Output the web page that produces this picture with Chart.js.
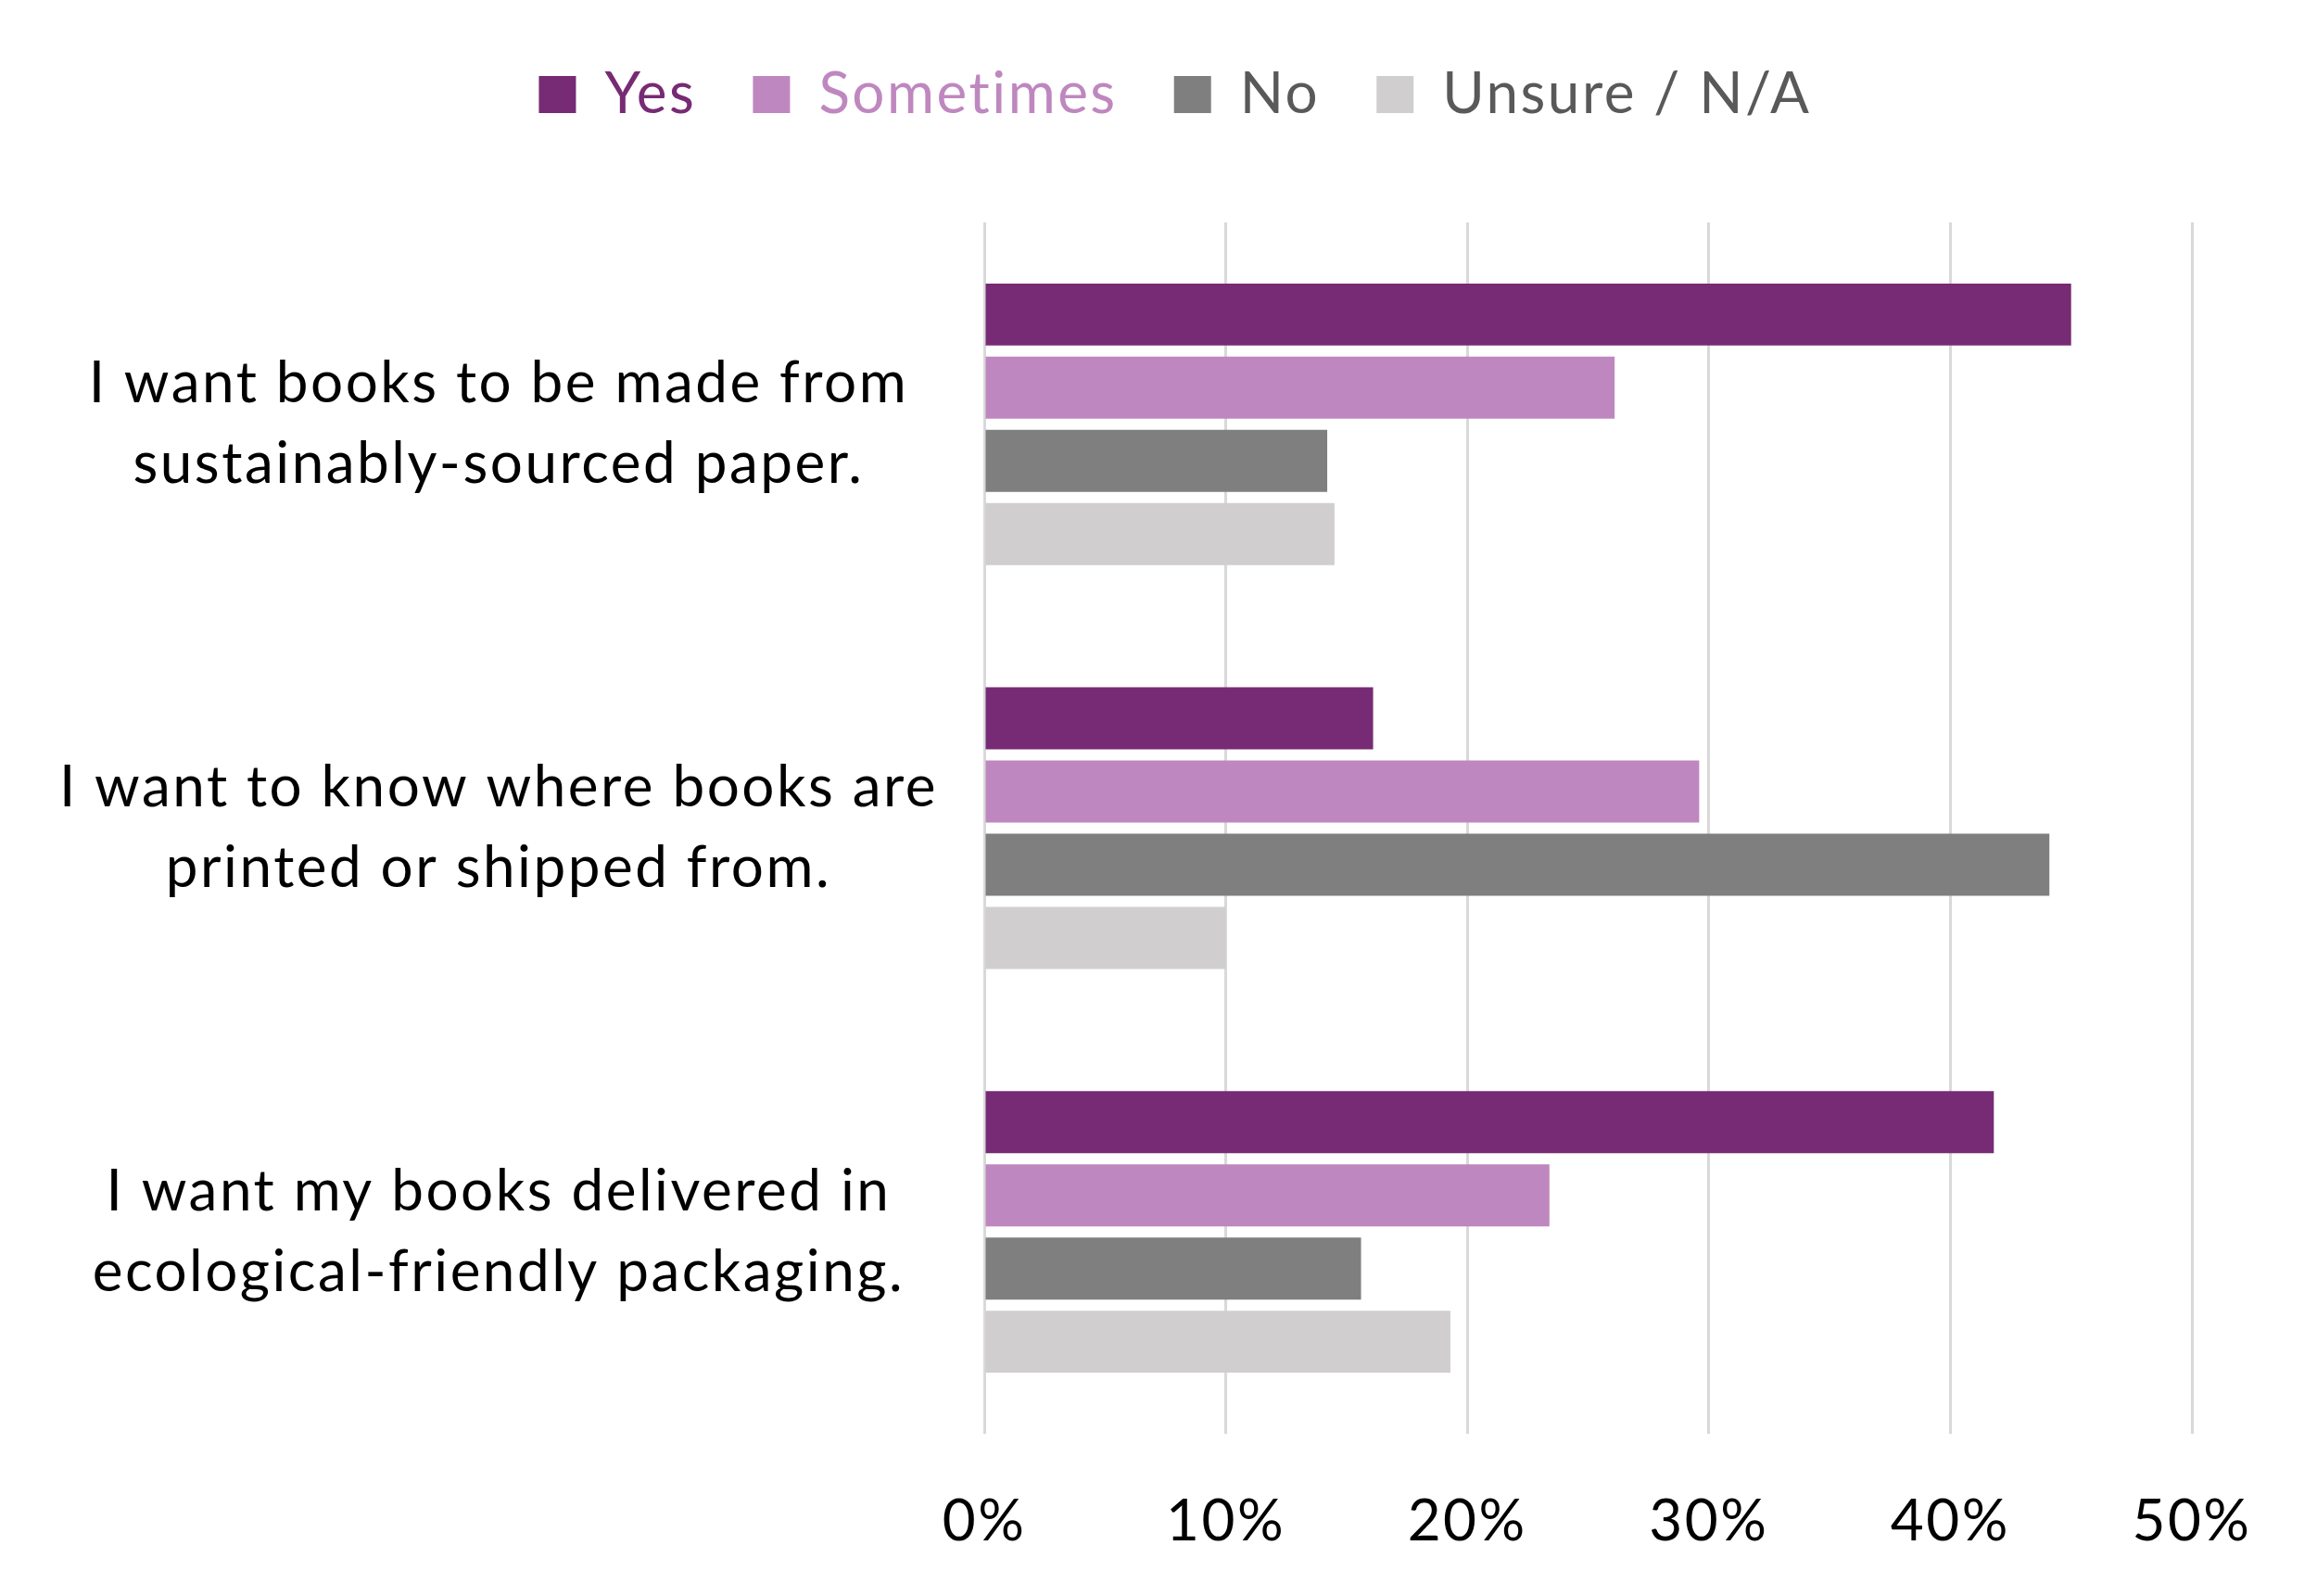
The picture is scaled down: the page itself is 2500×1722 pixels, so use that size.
<!DOCTYPE html>
<html>
<head>
<meta charset="utf-8">
<script src="https://cdn.jsdelivr.net/npm/chart.js@4.4.1/dist/chart.umd.min.js"></script>
<style>
  html, body { margin: 0; padding: 0; background: #fff; }
  #wrap { width: 2500px; height: 1722px; }
</style>
</head>
<body>
<div id="wrap"><canvas id="chart" width="2500" height="1722"></canvas></div>
<script>
// survey statements (y categories), one array of lines each
const statements = [
    ['I want books to be made from', 'sustainably-sourced paper.'],
    ['I want to know where books are', 'printed or shipped from.'],
    ['I want my books delivered in', 'ecological-friendly packaging.']
];
const seriesNames = ['Yes', 'Sometimes', 'No', 'Unsure / N/A'];

// share of respondents, in percent
const yesValues = [45.0, 16.1, 41.8];
const sometimesValues = [26.1, 29.6, 23.4];
const noValues = [14.2, 44.1, 15.6];
const unsureValues = [14.5, 10.0, 19.3];

const percentTicks = [0, 10, 20, 30, 40, 50];

const barColors = ['#772B74', '#BF87BF', '#7F7F7F', '#D0CECE'];
const legendTextColors = ['#772B74', '#BF87BF', '#595959', '#595959'];
const FONT = 'Lato';

const seriesValues = [yesValues, sometimesValues, noValues, unsureValues];

const datasets = seriesNames.map((name, i) => ({
    label: name,
    data: seriesValues[i],
    backgroundColor: barColors[i],
    borderWidth: 0,
    categoryPercentage: 0.725,
    barPercentage: 0.848
}));

// push the plot area down below the legend
const legendSpacer = {
    id: 'legendSpacer',
    beforeInit(chart) {
        const origFit = chart.legend.fit;
        chart.legend.fit = function () {
            origFit.call(this);
            this.height = 230;
        };
    }
};

// the source text is set a little wider than Lato
const looseText = {
    id: 'looseText',
    beforeUpdate(chart) { chart.ctx.letterSpacing = '2.5px'; },
    beforeDraw(chart) { chart.ctx.letterSpacing = '2.5px'; }
};

new Chart(document.getElementById('chart'), {
    type: 'bar',
    data: { labels: statements, datasets },
    plugins: [legendSpacer, looseText],
    options: {
        indexAxis: 'y',
        responsive: false,
        animation: false,
        devicePixelRatio: 1,
        layout: { padding: { left: 36, right: 0, top: 10, bottom: 0 } },
        plugins: {
            tooltip: { enabled: false },
            legend: {
                position: 'top',
                labels: {
                    boxWidth: 40,
                    boxHeight: 40,
                    padding: 61,
                    font: { family: FONT, size: 62 },
                    generateLabels(chart) {
                        const items = Chart.defaults.plugins.legend.labels.generateLabels(chart);
                        items.forEach((it, i) => { it.fontColor = legendTextColors[i]; });
                        return items;
                    }
                }
            }
        },
        scales: {
            x: {
                min: 0,
                max: 50,
                grid: { color: '#D9D9D9', lineWidth: 3, drawTicks: false },
                border: { display: false },
                afterBuildTicks: s => { s.ticks = percentTicks.map(v => ({ value: v })); },
                ticks: {
                    padding: 58,
                    color: '#000',
                    font: { family: FONT, size: 62 },
                    callback: v => v + '%'
                },
                afterFit: s => { s.height = 175; s.paddingRight = 135; }
            },
            y: {
                grid: { display: false },
                border: { display: false },
                ticks: {
                    crossAlign: 'center',
                    padding: 42,
                    color: '#000',
                    font: { family: FONT, size: 62, lineHeight: 1.4 }
                },
                afterFit: s => { s.width = 1026; }
            }
        }
    }
});
</script>
</body>
</html>
